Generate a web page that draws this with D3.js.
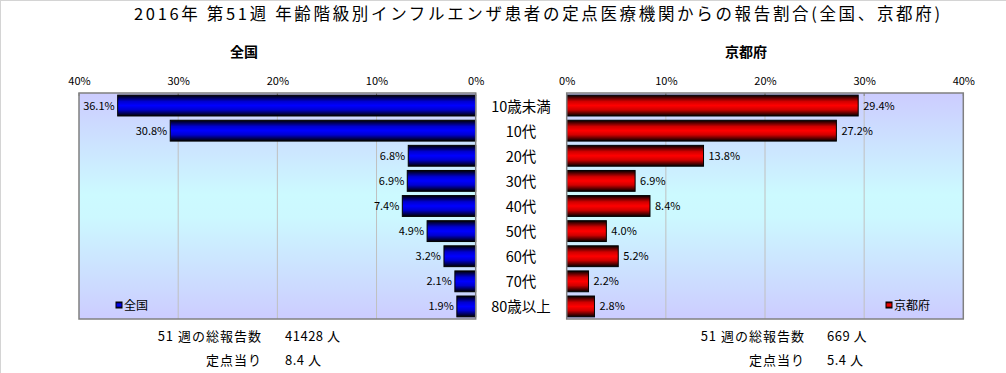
<!DOCTYPE html>
<html><head><meta charset="utf-8">
<script src="https://cdn.jsdelivr.net/npm/d3@7"></script>
<style>
html,body{margin:0;padding:0;background:#fff;}
svg text{font-family:"Noto Sans CJK JP","Noto Sans",sans-serif;fill:#000;}
</style></head>
<body><svg id="c" width="1006" height="373"></svg>
<script>
const categories = ["10歳未満","10代","20代","30代","40代","50代","60代","70代","80歳以上"];
const nationalValues = [36.1,30.8,6.8,6.9,7.4,4.9,3.2,2.1,1.9];
const kyotoValues = [29.4,27.2,13.8,6.9,8.4,4.0,5.2,2.2,2.8];
const tickValues = [0,10,20,30,40];
const titleText = "2016年 第51週 年齢階級別インフルエンザ患者の定点医療機関からの報告割合(全国、京都府)";
const panelNames = ["全国","京都府"];
const summaryLabels = ["51 週の総報告数","定点当り"];
const nationalSummary = ["41428 人","8.4 人"];
const kyotoSummary = ["669 人","5.4 人"];

const svg = d3.select("#c");
const defs = svg.append("defs");

svg.append("rect").attr("x",0.5).attr("y",0.5).attr("width",1010).attr("height",380)
  .attr("fill","none").attr("stroke","#d4d4d4").attr("stroke-width",1);

const bg = defs.append("linearGradient").attr("id","bg").attr("x1",0).attr("y1",0).attr("x2",0).attr("y2",1);
[[0,"#ccccff"],[0.45,"#ccfaff"],[0.55,"#ccf8ff"],[1,"#ccccff"]].forEach(([o,c])=>bg.append("stop").attr("offset",o).attr("stop-color",c));

function barGrad(id, bright, mid){
  const g = defs.append("linearGradient").attr("id",id).attr("x1",0).attr("y1",0).attr("x2",0).attr("y2",1);
  [[0,"#000000"],[0.3,mid],[0.5,bright],[0.7,mid],[1,"#000000"]].forEach(([o,c])=>g.append("stop").attr("offset",o).attr("stop-color",c));
}
barGrad("gBlue","#0000ff","#0000d0");
barGrad("gRed","#ff0000","#d00000");

svg.append("text").attr("x",134).attr("y",20)
  .attr("font-size",16.5).attr("textLength",806).attr("lengthAdjust","spacing").text(titleText);

const plotTop = 93, plotBottom = 319;
const y = d3.scaleBand().domain(categories).range([plotTop,plotBottom]).paddingInner(0.17).paddingOuter(0.085);

const panels = [
  {name:panelNames[0], vals:nationalValues, x0:475.7, x1:79, grad:"gBlue", side:"left", titleX:244, legendX:116, summary:nationalSummary, sumLabelX:262, sumValX:285},
  {name:panelNames[1], vals:kyotoValues, x0:566.7, x1:963.3, grad:"gRed", side:"right", titleX:746, legendX:886, summary:kyotoSummary, sumLabelX:805, sumValX:827}
];

panels.forEach(p=>{
  const x = d3.scaleLinear().domain([0,40]).range([p.x0,p.x1]);
  const left = Math.min(p.x0,p.x1), w = Math.abs(p.x1-p.x0);
  const g = svg.append("g");
  g.append("rect").attr("x",left).attr("y",plotTop).attr("width",w).attr("height",plotBottom-plotTop).attr("fill","url(#bg)");
  g.selectAll("line.grid").data(tickValues.filter(t=>t!==0&&t!==40)).join("line")
    .attr("x1",d=>x(d)).attr("x2",d=>x(d)).attr("y1",plotTop).attr("y2",plotBottom)
    .attr("stroke","#c0c0c0").attr("stroke-width",1);
  const ax = d3.axisTop(x).tickValues(tickValues).tickFormat(d=>d+"%").tickSize(0).tickPadding(0);
  const axg = svg.append("g").attr("transform",`translate(0,85)`).call(ax);
  axg.select(".domain").remove();
  axg.selectAll("text").attr("font-size",11).attr("font-family","'Liberation Sans',sans-serif");
  g.selectAll("line.tk").data(tickValues).join("line")
    .attr("x1",d=>x(d)).attr("x2",d=>x(d)).attr("y1",plotTop).attr("y2",plotTop+3)
    .attr("stroke","#808080");
  g.selectAll("rect.bar").data(p.vals).join("rect")
    .attr("x",d=>Math.min(x(0),x(d))).attr("y",(d,i)=>y(categories[i]))
    .attr("width",d=>Math.abs(x(d)-x(0))).attr("height",y.bandwidth())
    .attr("fill",`url(#${p.grad})`).attr("stroke","#000").attr("stroke-width",1);
  g.selectAll("text.val").data(p.vals).join("text")
    .attr("x",d=> p.side==="left" ? x(d)-3 : x(d)+5)
    .attr("y",(d,i)=>y(categories[i])+y.bandwidth()/2+4)
    .attr("text-anchor",p.side==="left"?"end":"start")
    .attr("font-size",11).attr("font-family","'Liberation Sans',sans-serif")
    .text(d=>d.toFixed(1)+"%");
  g.append("rect").attr("x",left).attr("y",plotTop).attr("width",w).attr("height",plotBottom-plotTop)
    .attr("fill","none").attr("stroke","#808080").attr("stroke-width",1.5);
  svg.append("text").attr("x",p.titleX).attr("y",57).attr("text-anchor","middle")
    .attr("font-size",14).attr("font-weight","bold").text(p.name);
  const lg = svg.append("g");
  lg.append("rect").attr("x",p.legendX).attr("y",302).attr("width",6).attr("height",6)
    .attr("fill",`url(#${p.grad})`).attr("stroke","#000").attr("stroke-width",1);
  lg.append("text").attr("x",p.legendX+8).attr("y",310).attr("font-size",12).text(p.name);
  summaryLabels.forEach((s,i)=>{
    svg.append("text").attr("x",p.sumLabelX).attr("y",341+i*24).attr("text-anchor","end")
      .attr("font-size",13).attr("letter-spacing",1).text(s);
    svg.append("text").attr("x",p.sumValX).attr("y",341+i*24).attr("font-size",13).attr("letter-spacing",0.5).text(p.summary[i]);
  });
});

svg.selectAll("text.cat").data(categories).join("text")
  .attr("x",521).attr("y",d=>y(d)+y.bandwidth()/2+6).attr("text-anchor","middle")
  .attr("font-size",14.5).text(d=>d);
</script></body></html>
